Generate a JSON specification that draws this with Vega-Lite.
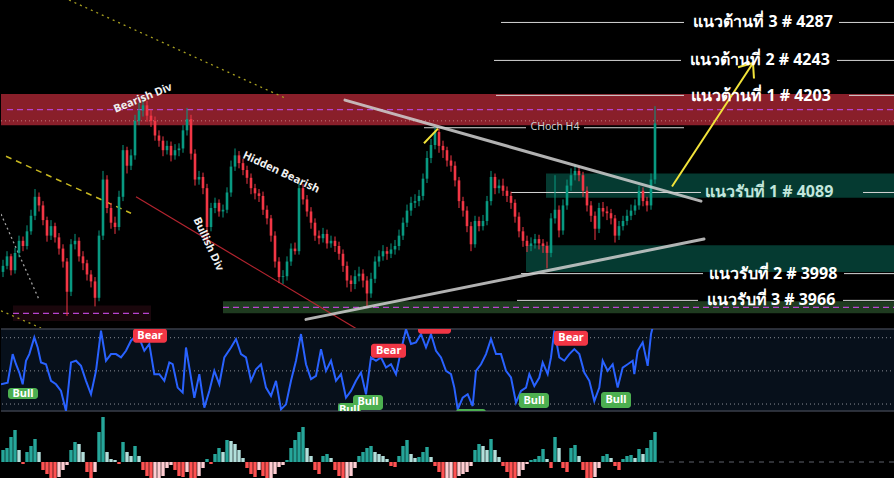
{
"$schema": "https://vega.github.io/schema/vega-lite/v6.json",
"background": "#000000",
"padding": 0,
"spacing": 0,
"config": {"view": {"stroke": null}, "concat": {"spacing": 0}, "scale": {"continuousPadding": 0}},
"resolve": {"scale": {"x": "independent", "y": "independent", "color": "independent"}},
"datasets": {
"candles": [
{"t":0.5,"o":3998,"h":4012,"l":3992,"c":4005},{"t":1.5,"o":4005,"h":4022,"l":4001,"c":4016},{"t":2.5,"o":4016,"h":4019,"l":3994,"c":4000},{"t":3.5,"o":4000,"h":4026,"l":3996,"c":4020},{"t":4.5,"o":4020,"h":4040,"l":4015,"c":4034},{"t":5.5,"o":4034,"h":4039,"l":4022,"c":4028},{"t":6.5,"o":4028,"h":4052,"l":4024,"c":4045},{"t":7.5,"o":4045,"h":4070,"l":4041,"c":4063},{"t":8.5,"o":4063,"h":4094,"l":4058,"c":4085},{"t":9.5,"o":4085,"h":4090,"l":4068,"c":4075},
{"t":10.5,"o":4075,"h":4080,"l":4052,"c":4058},{"t":11.5,"o":4058,"h":4062,"l":4033,"c":4040},{"t":12.5,"o":4040,"h":4058,"l":4035,"c":4051},{"t":13.5,"o":4051,"h":4055,"l":4032,"c":4038},{"t":14.5,"o":4038,"h":4043,"l":4018,"c":4025},{"t":15.5,"o":4025,"h":4030,"l":4003,"c":4010},{"t":16.5,"o":4010,"h":4014,"l":3947,"c":3975},{"t":17.5,"o":3975,"h":4036,"l":3970,"c":4030},{"t":18.5,"o":4030,"h":4042,"l":4024,"c":4034},{"t":19.5,"o":4034,"h":4038,"l":4010,"c":4016},
{"t":20.5,"o":4016,"h":4022,"l":4000,"c":4008},{"t":21.5,"o":4008,"h":4012,"l":3988,"c":3995},{"t":22.5,"o":3995,"h":4000,"l":3980,"c":3987},{"t":23.5,"o":3987,"h":3992,"l":3958,"c":3968},{"t":24.5,"o":3968,"h":4046,"l":3964,"c":4040},{"t":25.5,"o":4040,"h":4115,"l":4035,"c":4105},{"t":26.5,"o":4105,"h":4110,"l":4066,"c":4072},{"t":27.5,"o":4072,"h":4078,"l":4048,"c":4055},{"t":28.5,"o":4055,"h":4062,"l":4042,"c":4050},{"t":29.5,"o":4050,"h":4092,"l":4046,"c":4085},
{"t":30.5,"o":4085,"h":4145,"l":4080,"c":4139},{"t":31.5,"o":4139,"h":4143,"l":4112,"c":4121},{"t":32.5,"o":4121,"h":4140,"l":4116,"c":4133},{"t":33.5,"o":4133,"h":4180,"l":4128,"c":4173},{"t":34.5,"o":4173,"h":4194,"l":4168,"c":4185},{"t":35.5,"o":4185,"h":4200,"l":4178,"c":4191},{"t":36.5,"o":4191,"h":4196,"l":4172,"c":4179},{"t":37.5,"o":4179,"h":4186,"l":4166,"c":4173},{"t":38.5,"o":4173,"h":4178,"l":4150,"c":4156},{"t":39.5,"o":4156,"h":4162,"l":4143,"c":4150},
{"t":40.5,"o":4150,"h":4155,"l":4132,"c":4139},{"t":41.5,"o":4139,"h":4150,"l":4134,"c":4144},{"t":42.5,"o":4144,"h":4149,"l":4126,"c":4133},{"t":43.5,"o":4133,"h":4146,"l":4128,"c":4139},{"t":44.5,"o":4139,"h":4147,"l":4132,"c":4141},{"t":45.5,"o":4141,"h":4168,"l":4136,"c":4162},{"t":46.5,"o":4162,"h":4188,"l":4156,"c":4175},{"t":47.5,"o":4175,"h":4180,"l":4128,"c":4135},{"t":48.5,"o":4135,"h":4140,"l":4098,"c":4105},{"t":49.5,"o":4105,"h":4115,"l":4099,"c":4108},
{"t":50.5,"o":4108,"h":4113,"l":4088,"c":4095},{"t":51.5,"o":4095,"h":4100,"l":4030,"c":4050},{"t":52.5,"o":4050,"h":4078,"l":4045,"c":4072},{"t":53.5,"o":4072,"h":4084,"l":4066,"c":4078},{"t":54.5,"o":4078,"h":4082,"l":4062,"c":4068},{"t":55.5,"o":4068,"h":4076,"l":4061,"c":4070},{"t":56.5,"o":4070,"h":4096,"l":4066,"c":4090},{"t":57.5,"o":4090,"h":4127,"l":4085,"c":4120},{"t":58.5,"o":4120,"h":4141,"l":4115,"c":4133},{"t":59.5,"o":4133,"h":4138,"l":4118,"c":4124},
{"t":60.5,"o":4124,"h":4129,"l":4110,"c":4116},{"t":61.5,"o":4116,"h":4121,"l":4100,"c":4107},{"t":62.5,"o":4107,"h":4112,"l":4088,"c":4095},{"t":63.5,"o":4095,"h":4100,"l":4082,"c":4089},{"t":64.5,"o":4089,"h":4094,"l":4079,"c":4086},{"t":65.5,"o":4086,"h":4091,"l":4064,"c":4070},{"t":66.5,"o":4070,"h":4075,"l":4053,"c":4060},{"t":67.5,"o":4060,"h":4064,"l":4033,"c":4040},{"t":68.5,"o":4040,"h":4045,"l":4003,"c":4010},{"t":69.5,"o":4010,"h":4015,"l":3985,"c":3992},
{"t":70.5,"o":3992,"h":4000,"l":3984,"c":3993},{"t":71.5,"o":3993,"h":4016,"l":3988,"c":4010},{"t":72.5,"o":4010,"h":4031,"l":4005,"c":4025},{"t":73.5,"o":4025,"h":4032,"l":4018,"c":4022},{"t":74.5,"o":4022,"h":4102,"l":4018,"c":4095},{"t":75.5,"o":4095,"h":4100,"l":4076,"c":4082},{"t":76.5,"o":4082,"h":4087,"l":4062,"c":4068},{"t":77.5,"o":4068,"h":4073,"l":4048,"c":4055},{"t":78.5,"o":4055,"h":4060,"l":4034,"c":4040},{"t":79.5,"o":4040,"h":4046,"l":4030,"c":4037},
{"t":80.5,"o":4037,"h":4049,"l":4032,"c":4042},{"t":81.5,"o":4042,"h":4047,"l":4025,"c":4031},{"t":82.5,"o":4031,"h":4040,"l":4026,"c":4034},{"t":83.5,"o":4034,"h":4039,"l":4021,"c":4028},{"t":84.5,"o":4028,"h":4033,"l":4012,"c":4019},{"t":85.5,"o":4019,"h":4024,"l":3998,"c":4005},{"t":86.5,"o":4005,"h":4010,"l":3980,"c":3988},{"t":87.5,"o":3988,"h":3994,"l":3975,"c":3984},{"t":88.5,"o":3984,"h":4000,"l":3978,"c":3993},{"t":89.5,"o":3993,"h":4004,"l":3987,"c":3996},
{"t":90.5,"o":3996,"h":4001,"l":3980,"c":3988},{"t":91.5,"o":3988,"h":3993,"l":3958,"c":3973},{"t":92.5,"o":3973,"h":3997,"l":3968,"c":3990},{"t":93.5,"o":3990,"h":4016,"l":3985,"c":4010},{"t":94.5,"o":4010,"h":4023,"l":4004,"c":4016},{"t":95.5,"o":4016,"h":4029,"l":4011,"c":4022},{"t":96.5,"o":4022,"h":4027,"l":4012,"c":4019},{"t":97.5,"o":4019,"h":4031,"l":4014,"c":4024},{"t":98.5,"o":4024,"h":4035,"l":4018,"c":4028},{"t":99.5,"o":4028,"h":4047,"l":4023,"c":4040},
{"t":100.5,"o":4040,"h":4061,"l":4035,"c":4055},{"t":101.5,"o":4055,"h":4076,"l":4050,"c":4069},{"t":102.5,"o":4069,"h":4085,"l":4063,"c":4078},{"t":103.5,"o":4078,"h":4088,"l":4072,"c":4080},{"t":104.5,"o":4080,"h":4093,"l":4074,"c":4086},{"t":105.5,"o":4086,"h":4112,"l":4081,"c":4106},{"t":106.5,"o":4106,"h":4138,"l":4101,"c":4130},{"t":107.5,"o":4130,"h":4152,"l":4124,"c":4145},{"t":108.5,"o":4145,"h":4166,"l":4140,"c":4160},{"t":109.5,"o":4160,"h":4164,"l":4136,"c":4144},
{"t":110.5,"o":4144,"h":4150,"l":4130,"c":4139},{"t":111.5,"o":4139,"h":4143,"l":4120,"c":4127},{"t":112.5,"o":4127,"h":4133,"l":4114,"c":4121},{"t":113.5,"o":4121,"h":4126,"l":4097,"c":4104},{"t":114.5,"o":4104,"h":4108,"l":4072,"c":4080},{"t":115.5,"o":4080,"h":4085,"l":4062,"c":4069},{"t":116.5,"o":4069,"h":4074,"l":4044,"c":4051},{"t":117.5,"o":4051,"h":4056,"l":4022,"c":4030},{"t":118.5,"o":4030,"h":4063,"l":4026,"c":4057},{"t":119.5,"o":4057,"h":4062,"l":4045,"c":4051},
{"t":120.5,"o":4051,"h":4064,"l":4046,"c":4057},{"t":121.5,"o":4057,"h":4086,"l":4052,"c":4080},{"t":122.5,"o":4080,"h":4115,"l":4075,"c":4108},{"t":123.5,"o":4108,"h":4112,"l":4088,"c":4095},{"t":124.5,"o":4095,"h":4105,"l":4089,"c":4098},{"t":125.5,"o":4098,"h":4106,"l":4086,"c":4092},{"t":126.5,"o":4092,"h":4097,"l":4079,"c":4086},{"t":127.5,"o":4086,"h":4091,"l":4071,"c":4078},{"t":128.5,"o":4078,"h":4082,"l":4055,"c":4062},{"t":129.5,"o":4062,"h":4067,"l":4038,"c":4045},
{"t":130.5,"o":4045,"h":4050,"l":4027,"c":4034},{"t":131.5,"o":4034,"h":4040,"l":4021,"c":4028},{"t":132.5,"o":4028,"h":4038,"l":4022,"c":4031},{"t":133.5,"o":4031,"h":4042,"l":4025,"c":4036},{"t":134.5,"o":4036,"h":4041,"l":4024,"c":4031},{"t":135.5,"o":4031,"h":4036,"l":4020,"c":4028},{"t":136.5,"o":4028,"h":4033,"l":4002,"c":4020},{"t":137.5,"o":4020,"h":4066,"l":4015,"c":4060},{"t":138.5,"o":4060,"h":4110,"l":4054,"c":4070},{"t":139.5,"o":4070,"h":4075,"l":4038,"c":4046},
{"t":140.5,"o":4046,"h":4082,"l":4041,"c":4075},{"t":141.5,"o":4075,"h":4105,"l":4070,"c":4098},{"t":142.5,"o":4098,"h":4118,"l":4092,"c":4110},{"t":143.5,"o":4110,"h":4122,"l":4104,"c":4115},{"t":144.5,"o":4115,"h":4120,"l":4103,"c":4110},{"t":145.5,"o":4110,"h":4114,"l":4085,"c":4092},{"t":146.5,"o":4092,"h":4097,"l":4068,"c":4075},{"t":147.5,"o":4075,"h":4080,"l":4056,"c":4063},{"t":148.5,"o":4063,"h":4068,"l":4035,"c":4048},{"t":149.5,"o":4048,"h":4078,"l":4043,"c":4072},
{"t":150.5,"o":4072,"h":4079,"l":4062,"c":4068},{"t":151.5,"o":4068,"h":4074,"l":4058,"c":4066},{"t":152.5,"o":4066,"h":4071,"l":4053,"c":4060},{"t":153.5,"o":4060,"h":4064,"l":4032,"c":4040},{"t":154.5,"o":4040,"h":4057,"l":4035,"c":4051},{"t":155.5,"o":4051,"h":4063,"l":4046,"c":4057},{"t":156.5,"o":4057,"h":4070,"l":4052,"c":4063},{"t":157.5,"o":4063,"h":4076,"l":4058,"c":4069},{"t":158.5,"o":4069,"h":4082,"l":4064,"c":4075},{"t":159.5,"o":4075,"h":4098,"l":4070,"c":4092},
{"t":160.5,"o":4092,"h":4096,"l":4074,"c":4080},{"t":161.5,"o":4080,"h":4085,"l":4068,"c":4075},{"t":162.5,"o":4075,"h":4112,"l":4070,"c":4105},{"t":163.5,"o":4105,"h":4190,"l":4100,"c":4170}
],
"zones": [
{"k":"res","t1":0,"t2":223.5,"p1":4168,"p2":4204},
{"k":"sup","t1":136.25,"t2":223.5,"p1":4084,"p2":4112},
{"k":"sup","t1":131.25,"t2":223.5,"p1":3998,"p2":4029},
{"k":"base","t1":55.5,"t2":223.5,"p1":3950,"p2":3964},
{"k":"old","t1":3,"t2":37.5,"p1":3941,"p2":3959}
],
"pale": [{"t1":0,"t2":223.5,"p":4173}],
"magenta": [
{"t1":1.5,"t2":223.5,"p":4186},
{"t1":55.5,"t2":223.5,"p":3957},
{"t1":3,"t2":37.5,"p":3950}
],
"levels": [
{"t1":125,"t2":170.75,"p":4287},{"t1":209.5,"t2":223.5,"p":4287},
{"t1":123.25,"t2":170,"p":4243},{"t1":209,"t2":223.5,"p":4243},
{"t1":123.75,"t2":170.75,"p":4202.5},{"t1":212,"t2":223.5,"p":4202.5},
{"t1":105.75,"t2":131.25,"p":4165},{"t1":145.75,"t2":170.75,"p":4165},
{"t1":127.5,"t2":175,"p":4090},{"t1":215.5,"t2":223.5,"p":4090},
{"t1":130,"t2":175.5,"p":3996},{"t1":210.75,"t2":223.5,"p":3996},
{"t1":129,"t2":174.25,"p":3965},{"t1":210.5,"t2":223.5,"p":3965}
],
"segments": [
{"k":"tri","t1":86,"p1":4197,"t2":175,"p2":4080},
{"k":"tri","t1":76.25,"p1":3943,"t2":175.75,"p2":4036},
{"k":"div","t1":33.75,"p1":4085,"t2":90,"p2":3929},
{"k":"ydash","t1":1.25,"p1":4132,"t2":32.5,"p2":4066},
{"k":"ydot","t1":17,"p1":4313,"t2":70.75,"p2":4200},
{"k":"ydot","t1":0,"p1":3953,"t2":10,"p2":3933},
{"k":"gdot","t1":0,"p1":4065,"t2":9.5,"p2":3966},
{"k":"arrow","t1":167.75,"p1":4097,"t2":188,"p2":4240},
{"k":"arrow","t1":188,"p1":4240,"t2":184.25,"p2":4235},
{"k":"arrow","t1":188,"p1":4240,"t2":188.25,"p2":4222},
{"k":"arrow","t1":105.75,"p1":4147,"t2":109.25,"p2":4164}
],
"texts": [
{"k":"lvl","txt":"แนวต้านที่ 3 # 4287","t":190.5,"p":4287},
{"k":"lvl","txt":"แนวต้านที่ 2 # 4243","t":189.75,"p":4243},
{"k":"lvl","txt":"แนวต้านที่ 1 # 4203","t":190,"p":4202},
{"k":"mint","txt":"แนวรับที่ 1 # 4089","t":192,"p":4090},
{"k":"lvl","txt":"แนวรับที่ 2 # 3998","t":193,"p":3996},
{"k":"lvl","txt":"แนวรับที่ 3 # 3966","t":192.5,"p":3966},
{"k":"choch","txt":"CHoch H4","t":138.5,"p":4166},
{"k":"bear","txt":"Bearish Div","t":35.5,"p":4199},
{"k":"hidden","txt":"Hidden Bearish","t":70,"p":4113},
{"k":"bull","txt":"Bullish Div","t":51.75,"p":4030}
],
"rsilevels": [{"v":70},{"v":50},{"v":30}],
"rsiborders": [{"v":75.25},{"v":25.8}],
"rsi": [
{"t":0,"v":41.9},{"t":1.67,"v":42.9},{"t":2.92,"v":60.1},{"t":3.75,"v":54.0},{"t":4.58,"v":49.0},{"t":5.42,"v":41.9},{"t":6.25,"v":56.1},{"t":7.08,"v":60.1},{"t":8.33,"v":70.2},{"t":9.17,"v":64.1},
{"t":10,"v":55.1},{"t":11.25,"v":54.0},{"t":12.5,"v":44.0},{"t":13.75,"v":41.9},{"t":15,"v":37.9},{"t":16.25,"v":25.8},{"t":17.5,"v":55.1},{"t":18.75,"v":56.1},{"t":20,"v":53.0},{"t":21.25,"v":44.0},
{"t":22.5,"v":35.9},{"t":23.75,"v":50.0},{"t":25,"v":74.2},{"t":26.25,"v":56.1},{"t":27.5,"v":60.1},{"t":28.75,"v":60.1},{"t":30,"v":58.1},{"t":31.25,"v":62.1},{"t":32.5,"v":68.2},{"t":34.17,"v":72.2},
{"t":35.83,"v":62.1},{"t":37.08,"v":66.2},{"t":38.33,"v":48.0},{"t":39.58,"v":48.0},{"t":40.83,"v":44.0},{"t":42.08,"v":55.1},{"t":42.92,"v":54.0},{"t":44.17,"v":39.9},{"t":45.42,"v":36.9},{"t":46.25,"v":64.1},
{"t":47.08,"v":52.0},{"t":48.33,"v":33.8},{"t":49.58,"v":48.0},{"t":50.83,"v":27.8},{"t":52.08,"v":37.9},{"t":53.33,"v":50.0},{"t":54.58,"v":41.9},{"t":55.83,"v":58.1},{"t":57.5,"v":64.1},{"t":58.75,"v":69.2},
{"t":60,"v":60.1},{"t":61.25,"v":58.1},{"t":62.5,"v":44.0},{"t":63.75,"v":51.0},{"t":65,"v":54.0},{"t":66.25,"v":39.9},{"t":67.5,"v":34.9},{"t":68.75,"v":44.0},{"t":70,"v":26.8},{"t":71.25,"v":29.8},
{"t":72.5,"v":44.0},{"t":73.75,"v":56.1},{"t":75,"v":72.2},{"t":76.25,"v":54.0},{"t":77.5,"v":45.0},{"t":78.75,"v":47.0},{"t":80,"v":63.1},{"t":81.25,"v":50.0},{"t":82.5,"v":56.1},{"t":83.75,"v":44.0},
{"t":85,"v":48.0},{"t":86.25,"v":33.8},{"t":87.5,"v":37.9},{"t":88.75,"v":44.0},{"t":90,"v":49.0},{"t":91.25,"v":35.9},{"t":92.5,"v":58.1},{"t":93.75,"v":56.1},{"t":95,"v":58.1},{"t":96.25,"v":52.0},
{"t":97.5,"v":54.0},{"t":98.75,"v":48.0},{"t":100,"v":62.1},{"t":101.25,"v":75.2},{"t":102.5,"v":66.2},{"t":103.75,"v":67.2},{"t":105,"v":72.2},{"t":106.25,"v":64.1},{"t":107.5,"v":72.2},{"t":108.75,"v":62.1},
{"t":110,"v":58.1},{"t":111.25,"v":50.0},{"t":112.5,"v":48.0},{"t":113.33,"v":39.9},{"t":114.17,"v":26.8},{"t":115.42,"v":33.8},{"t":116.67,"v":35.9},{"t":117.92,"v":28.8},{"t":118.75,"v":50.0},{"t":120,"v":54.0},
{"t":121.25,"v":60.1},{"t":122.5,"v":69.2},{"t":123.75,"v":60.1},{"t":125,"v":60.1},{"t":126.25,"v":50.0},{"t":127.5,"v":46.0},{"t":128.75,"v":30.8},{"t":130,"v":37.9},{"t":131.25,"v":39.9},{"t":132.08,"v":48.0},
{"t":133.33,"v":40.9},{"t":134.58,"v":46.0},{"t":135.42,"v":55.1},{"t":136.67,"v":48.0},{"t":137.5,"v":58.1},{"t":138.33,"v":74.2},{"t":139.58,"v":58.1},{"t":140.83,"v":56.1},{"t":142.08,"v":60.1},{"t":143.33,"v":63.1},
{"t":144.58,"v":60.1},{"t":145.83,"v":49.0},{"t":147.08,"v":44.0},{"t":148.33,"v":31.8},{"t":149.58,"v":39.9},{"t":150.42,"v":56.1},{"t":151.67,"v":50.0},{"t":152.92,"v":54.0},{"t":154.17,"v":39.9},{"t":155.42,"v":52.0},
{"t":156.67,"v":54.0},{"t":157.92,"v":56.1},{"t":158.33,"v":48.0},{"t":159.17,"v":62.1},{"t":160.42,"v":67.2},{"t":161.67,"v":53.0},{"t":162.5,"v":72.2},{"t":163.33,"v":80.3}
],
"signals": [
{"k":"Bull","lab":"Bull","t1":1.75,"t2":9.25,"v1":33.0,"v2":39.7,"tc":5.5,"vc":36.3},
{"k":"Bear","lab":"Bear","t1":33,"t2":41.5,"v1":67.0,"v2":75.5,"tc":37.25,"vc":71.2},
{"k":"Bear","lab":"","t1":104.25,"t2":112.5,"v1":72.4,"v2":79.5,"tc":108.4,"vc":76},
{"k":"Bear","lab":"Bear","t1":92.5,"t2":101.25,"v1":57.9,"v2":66.4,"tc":96.9,"vc":62.1},
{"k":"Bull","lab":"Bull","t1":84.25,"t2":90,"v1":22.7,"v2":30.6,"tc":87.1,"vc":26.6},
{"k":"Bull","lab":"Bull","t1":88,"t2":95.5,"v1":26.4,"v2":35.5,"tc":91.75,"vc":31.0},
{"k":"Bull","lab":"","t1":113.75,"t2":121.25,"v1":21,"v2":27,"tc":117.5,"vc":24},
{"k":"Bear","lab":"Bear","t1":138.25,"t2":146.75,"v1":65.2,"v2":74.2,"tc":142.5,"vc":69.7},
{"k":"Bull","lab":"Bull","t1":129.5,"t2":137,"v1":27.6,"v2":36.7,"tc":133.25,"vc":32.1},
{"k":"Bull","lab":"Bull","t1":150,"t2":157.5,"v1":27.6,"v2":37.3,"tc":153.75,"vc":32.4}
],
"hist": [
{"t":0.5,"v":12,"s":"up"},{"t":1.5,"v":14,"s":"up"},{"t":2.5,"v":25,"s":"up"},{"t":3.5,"v":32,"s":"up"},{"t":4.5,"v":12,"s":"upfade"},{"t":5.5,"v":-2,"s":"dn"},{"t":6.5,"v":10,"s":"up"},{"t":7.5,"v":16,"s":"up"},{"t":8.5,"v":23,"s":"up"},{"t":9.5,"v":10,"s":"upfade"},
{"t":10.5,"v":-8,"s":"dn"},{"t":11.5,"v":-12,"s":"dn"},{"t":12.5,"v":-17,"s":"dn"},{"t":13.5,"v":-18,"s":"dn"},{"t":14.5,"v":-15,"s":"dnfade"},{"t":15.5,"v":-8,"s":"dnfade"},{"t":16.5,"v":-3,"s":"dnfade"},{"t":17.5,"v":12,"s":"up"},{"t":18.5,"v":20,"s":"up"},{"t":19.5,"v":18,"s":"upfade"},
{"t":20.5,"v":10,"s":"upfade"},{"t":21.5,"v":-10,"s":"dn"},{"t":22.5,"v":-16,"s":"dn"},{"t":23.5,"v":-10,"s":"dnfade"},{"t":24.5,"v":30,"s":"up"},{"t":25.5,"v":45,"s":"up"},{"t":26.5,"v":10,"s":"upfade"},{"t":27.5,"v":3,"s":"upfade"},{"t":28.5,"v":2,"s":"upfade"},{"t":29.5,"v":-2,"s":"dn"},
{"t":30.5,"v":20,"s":"up"},{"t":31.5,"v":10,"s":"upfade"},{"t":32.5,"v":6,"s":"upfade"},{"t":33.5,"v":16,"s":"up"},{"t":34.5,"v":6,"s":"upfade"},{"t":35.5,"v":-8,"s":"dn"},{"t":36.5,"v":-14,"s":"dn"},{"t":37.5,"v":-18,"s":"dn"},{"t":38.5,"v":-17,"s":"dnfade"},{"t":39.5,"v":-16,"s":"dnfade"},
{"t":40.5,"v":-14,"s":"dnfade"},{"t":41.5,"v":-6,"s":"dnfade"},{"t":42.5,"v":-3,"s":"dnfade"},{"t":43.5,"v":-8,"s":"dn"},{"t":44.5,"v":-14,"s":"dn"},{"t":45.5,"v":-15,"s":"dn"},{"t":46.5,"v":-10,"s":"dnfade"},{"t":47.5,"v":-16,"s":"dn"},{"t":48.5,"v":-18,"s":"dn"},{"t":49.5,"v":-14,"s":"dnfade"},
{"t":50.5,"v":-6,"s":"dnfade"},{"t":51.5,"v":3,"s":"up"},{"t":52.5,"v":-2,"s":"dn"},{"t":53.5,"v":8,"s":"up"},{"t":54.5,"v":14,"s":"up"},{"t":55.5,"v":10,"s":"upfade"},{"t":56.5,"v":22,"s":"up"},{"t":57.5,"v":21,"s":"upfade"},{"t":58.5,"v":18,"s":"upfade"},{"t":59.5,"v":12,"s":"upfade"},
{"t":60.5,"v":4,"s":"upfade"},{"t":61.5,"v":-6,"s":"dn"},{"t":62.5,"v":-12,"s":"dn"},{"t":63.5,"v":-15,"s":"dn"},{"t":64.5,"v":-8,"s":"dnfade"},{"t":65.5,"v":-14,"s":"dn"},{"t":66.5,"v":-18,"s":"dn"},{"t":67.5,"v":-17,"s":"dnfade"},{"t":68.5,"v":-12,"s":"dnfade"},{"t":69.5,"v":-5,"s":"dnfade"},
{"t":70.5,"v":-3,"s":"dnfade"},{"t":71.5,"v":2,"s":"up"},{"t":72.5,"v":14,"s":"up"},{"t":73.5,"v":22,"s":"up"},{"t":74.5,"v":30,"s":"up"},{"t":75.5,"v":35,"s":"up"},{"t":76.5,"v":14,"s":"upfade"},{"t":77.5,"v":6,"s":"upfade"},{"t":78.5,"v":-8,"s":"dn"},{"t":79.5,"v":-12,"s":"dn"},
{"t":80.5,"v":6,"s":"up"},{"t":81.5,"v":8,"s":"up"},{"t":82.5,"v":4,"s":"upfade"},{"t":83.5,"v":-8,"s":"dn"},{"t":84.5,"v":-14,"s":"dn"},{"t":85.5,"v":-18,"s":"dn"},{"t":86.5,"v":-17,"s":"dnfade"},{"t":87.5,"v":-14,"s":"dnfade"},{"t":88.5,"v":-6,"s":"dnfade"},{"t":89.5,"v":6,"s":"up"},
{"t":90.5,"v":10,"s":"up"},{"t":91.5,"v":14,"s":"up"},{"t":92.5,"v":16,"s":"up"},{"t":93.5,"v":10,"s":"upfade"},{"t":94.5,"v":8,"s":"upfade"},{"t":95.5,"v":6,"s":"upfade"},{"t":96.5,"v":3,"s":"upfade"},{"t":97.5,"v":-4,"s":"dn"},{"t":98.5,"v":-5,"s":"dn"},{"t":99.5,"v":6,"s":"up"},
{"t":100.5,"v":16,"s":"up"},{"t":101.5,"v":22,"s":"up"},{"t":102.5,"v":8,"s":"upfade"},{"t":103.5,"v":4,"s":"upfade"},{"t":104.5,"v":5,"s":"up"},{"t":105.5,"v":10,"s":"up"},{"t":106.5,"v":15,"s":"up"},{"t":107.5,"v":5,"s":"upfade"},{"t":108.5,"v":-4,"s":"dn"},{"t":109.5,"v":-10,"s":"dn"},
{"t":110.5,"v":-18,"s":"dn"},{"t":111.5,"v":-17,"s":"dnfade"},{"t":112.5,"v":-16,"s":"dnfade"},{"t":113.5,"v":-18,"s":"dn"},{"t":114.5,"v":-14,"s":"dnfade"},{"t":115.5,"v":-12,"s":"dnfade"},{"t":116.5,"v":-10,"s":"dnfade"},{"t":117.5,"v":-4,"s":"dnfade"},{"t":118.5,"v":12,"s":"up"},{"t":119.5,"v":18,"s":"up"},
{"t":120.5,"v":16,"s":"upfade"},{"t":121.5,"v":12,"s":"upfade"},{"t":122.5,"v":23,"s":"up"},{"t":123.5,"v":12,"s":"upfade"},{"t":124.5,"v":5,"s":"upfade"},{"t":125.5,"v":-4,"s":"dn"},{"t":126.5,"v":-10,"s":"dn"},{"t":127.5,"v":-16,"s":"dn"},{"t":128.5,"v":-18,"s":"dn"},{"t":129.5,"v":-14,"s":"dnfade"},
{"t":130.5,"v":-8,"s":"dnfade"},{"t":131.5,"v":-2,"s":"dnfade"},{"t":132.5,"v":2,"s":"up"},{"t":133.5,"v":3,"s":"up"},{"t":134.5,"v":6,"s":"up"},{"t":135.5,"v":13,"s":"up"},{"t":136.5,"v":3,"s":"upfade"},{"t":137.5,"v":-6,"s":"dn"},{"t":138.5,"v":25,"s":"up"},{"t":139.5,"v":14,"s":"upfade"},
{"t":140.5,"v":-6,"s":"dn"},{"t":141.5,"v":-10,"s":"dn"},{"t":142.5,"v":14,"s":"up"},{"t":143.5,"v":17,"s":"up"},{"t":144.5,"v":6,"s":"upfade"},{"t":145.5,"v":-8,"s":"dn"},{"t":146.5,"v":-16,"s":"dn"},{"t":147.5,"v":-18,"s":"dn"},{"t":148.5,"v":-15,"s":"dnfade"},{"t":149.5,"v":-6,"s":"dnfade"},
{"t":150.5,"v":6,"s":"up"},{"t":151.5,"v":8,"s":"up"},{"t":152.5,"v":4,"s":"upfade"},{"t":153.5,"v":-4,"s":"dn"},{"t":154.5,"v":-8,"s":"dn"},{"t":155.5,"v":3,"s":"up"},{"t":156.5,"v":6,"s":"up"},{"t":157.5,"v":7,"s":"up"},{"t":158.5,"v":4,"s":"upfade"},{"t":159.5,"v":13,"s":"up"},
{"t":160.5,"v":8,"s":"upfade"},{"t":161.5,"v":14,"s":"up"},{"t":162.5,"v":22,"s":"up"},{"t":163.5,"v":30,"s":"up"}
],
"zero": [{"t1":164.5,"t2":223.5,"v":0}]
},
"vconcat": [
{
"width": 894, "height": 328,
"layer": [
{"data":{"name":"zones"},"mark":{"type":"rect","clip":true},"encoding":{
 "x":{"field":"t1","type":"quantitative","scale":{"domain":[0,223.5],"nice":false,"zero":false,"padding":0},"axis":null},"x2":{"field":"t2"},
 "y":{"field":"p1","type":"quantitative","scale":{"domain":[3933,4313],"nice":false,"zero":false},"axis":null},"y2":{"field":"p2"},
 "color":{"field":"k","type":"nominal","scale":{"domain":["res","sup","base","old"],"range":["#891f2a","#053a31","#1f3b20","#1a070c"]},"legend":null}}},
{"data":{"name":"pale"},"mark":{"type":"rule","color":"#d9a0a0","strokeDash":[1,3],"opacity":0.7},"encoding":{
 "x":{"field":"t1","type":"quantitative","scale":{"domain":[0,223.5],"nice":false,"zero":false,"padding":0},"axis":null},"x2":{"field":"t2"},
 "y":{"field":"p","type":"quantitative","scale":{"domain":[3933,4313],"nice":false,"zero":false},"axis":null}}},
{"data":{"name":"magenta"},"mark":{"type":"rule","color":"#b843d0","strokeDash":[6,4],"strokeWidth":1.2},"encoding":{
 "x":{"field":"t1","type":"quantitative","scale":{"domain":[0,223.5],"nice":false,"zero":false,"padding":0},"axis":null},"x2":{"field":"t2"},
 "y":{"field":"p","type":"quantitative","scale":{"domain":[3933,4313],"nice":false,"zero":false},"axis":null}}},
{"data":{"name":"levels"},"mark":{"type":"rule","color":"#d6d6d6","strokeWidth":1},"encoding":{
 "x":{"field":"t1","type":"quantitative","scale":{"domain":[0,223.5],"nice":false,"zero":false,"padding":0},"axis":null},"x2":{"field":"t2"},
 "y":{"field":"p","type":"quantitative","scale":{"domain":[3933,4313],"nice":false,"zero":false},"axis":null}}},
{"data":{"name":"segments"},"transform":[{"filter":"datum.k == 'ydot'"}],"mark":{"type":"rule","color":"#a8a020","strokeDash":[2,4],"strokeWidth":1.3,"clip":true},"encoding":{
 "x":{"field":"t1","type":"quantitative","scale":{"domain":[0,223.5],"nice":false,"zero":false,"padding":0},"axis":null},"x2":{"field":"t2"},
 "y":{"field":"p1","type":"quantitative","scale":{"domain":[3933,4313],"nice":false,"zero":false},"axis":null},"y2":{"field":"p2"}}},
{"data":{"name":"segments"},"transform":[{"filter":"datum.k == 'gdot'"}],"mark":{"type":"rule","color":"#a0a0a0","strokeDash":[2,3],"strokeWidth":1.3,"clip":true},"encoding":{
 "x":{"field":"t1","type":"quantitative","scale":{"domain":[0,223.5],"nice":false,"zero":false,"padding":0},"axis":null},"x2":{"field":"t2"},
 "y":{"field":"p1","type":"quantitative","scale":{"domain":[3933,4313],"nice":false,"zero":false},"axis":null},"y2":{"field":"p2"}}},
{"data":{"name":"segments"},"transform":[{"filter":"datum.k == 'ydash'"}],"mark":{"type":"rule","color":"#c8b820","strokeDash":[6,5],"strokeWidth":1.5,"clip":true},"encoding":{
 "x":{"field":"t1","type":"quantitative","scale":{"domain":[0,223.5],"nice":false,"zero":false,"padding":0},"axis":null},"x2":{"field":"t2"},
 "y":{"field":"p1","type":"quantitative","scale":{"domain":[3933,4313],"nice":false,"zero":false},"axis":null},"y2":{"field":"p2"}}},
{"data":{"name":"segments"},"transform":[{"filter":"datum.k == 'div'"}],"mark":{"type":"rule","color":"#b3242f","strokeWidth":1.2,"clip":true},"encoding":{
 "x":{"field":"t1","type":"quantitative","scale":{"domain":[0,223.5],"nice":false,"zero":false,"padding":0},"axis":null},"x2":{"field":"t2"},
 "y":{"field":"p1","type":"quantitative","scale":{"domain":[3933,4313],"nice":false,"zero":false},"axis":null},"y2":{"field":"p2"}}},
{"data":{"name":"candles"},"mark":{"type":"rule","strokeWidth":1,"clip":true},"encoding":{
 "x":{"field":"t","type":"quantitative","scale":{"domain":[0,223.5],"nice":false,"zero":false,"padding":0},"axis":null},
 "y":{"field":"l","type":"quantitative","scale":{"domain":[3933,4313],"nice":false,"zero":false},"axis":null},"y2":{"field":"h"},
 "color":{"condition":{"test":"datum.c >= datum.o","value":"#089981"},"value":"#f23645"}}},
{"data":{"name":"candles"},"mark":{"type":"bar","size":2.6,"clip":true},"encoding":{
 "x":{"field":"t","type":"quantitative","scale":{"domain":[0,223.5],"nice":false,"zero":false,"padding":0},"axis":null},
 "y":{"field":"o","type":"quantitative","scale":{"domain":[3933,4313],"nice":false,"zero":false},"axis":null},"y2":{"field":"c"},
 "color":{"condition":{"test":"datum.c >= datum.o","value":"#089981"},"value":"#f23645"}}},
{"data":{"name":"segments"},"transform":[{"filter":"datum.k == 'tri'"}],"mark":{"type":"rule","color":"#d0d0d0","strokeWidth":3,"opacity":0.85,"strokeCap":"round","clip":true},"encoding":{
 "x":{"field":"t1","type":"quantitative","scale":{"domain":[0,223.5],"nice":false,"zero":false,"padding":0},"axis":null},"x2":{"field":"t2"},
 "y":{"field":"p1","type":"quantitative","scale":{"domain":[3933,4313],"nice":false,"zero":false},"axis":null},"y2":{"field":"p2"}}},
{"data":{"name":"segments"},"transform":[{"filter":"datum.k == 'arrow'"}],"mark":{"type":"rule","color":"#f2e33a","strokeWidth":2,"clip":true},"encoding":{
 "x":{"field":"t1","type":"quantitative","scale":{"domain":[0,223.5],"nice":false,"zero":false,"padding":0},"axis":null},"x2":{"field":"t2"},
 "y":{"field":"p1","type":"quantitative","scale":{"domain":[3933,4313],"nice":false,"zero":false},"axis":null},"y2":{"field":"p2"}}},
{"data":{"name":"texts"},"transform":[{"filter":"datum.k == 'lvl' || datum.k == 'mint'"}],"mark":{"type":"text","fontSize":16,"fontWeight":"bold","font":"Noto Sans","align":"center","baseline":"middle"},"encoding":{
 "x":{"field":"t","type":"quantitative","scale":{"domain":[0,223.5],"nice":false,"zero":false,"padding":0},"axis":null},
 "y":{"field":"p","type":"quantitative","scale":{"domain":[3933,4313],"nice":false,"zero":false},"axis":null},
 "text":{"field":"txt"},
 "color":{"condition":{"test":"datum.k == 'mint'","value":"#c2e6dc"},"value":"#ffffff"}}},
{"data":{"name":"texts"},"transform":[{"filter":"datum.k == 'choch'"}],"mark":{"type":"text","fontSize":10.5,"font":"Noto Sans","color":"#cfcfcf","align":"center","baseline":"middle"},"encoding":{
 "x":{"field":"t","type":"quantitative","scale":{"domain":[0,223.5],"nice":false,"zero":false,"padding":0},"axis":null},
 "y":{"field":"p","type":"quantitative","scale":{"domain":[3933,4313],"nice":false,"zero":false},"axis":null},
 "text":{"field":"txt"}}},
{"data":{"name":"texts"},"transform":[{"filter":"datum.k == 'bear'"}],"mark":{"type":"text","fontSize":11,"fontWeight":"bold","font":"Noto Sans","color":"#f0f0f0","align":"center","baseline":"middle","angle":338},"encoding":{
 "x":{"field":"t","type":"quantitative","scale":{"domain":[0,223.5],"nice":false,"zero":false,"padding":0},"axis":null},
 "y":{"field":"p","type":"quantitative","scale":{"domain":[3933,4313],"nice":false,"zero":false},"axis":null},
 "text":{"field":"txt"}}},
{"data":{"name":"texts"},"transform":[{"filter":"datum.k == 'hidden'"}],"mark":{"type":"text","fontSize":11,"fontWeight":"bold","font":"Noto Sans","color":"#f0f0f0","align":"center","baseline":"middle","angle":25},"encoding":{
 "x":{"field":"t","type":"quantitative","scale":{"domain":[0,223.5],"nice":false,"zero":false,"padding":0},"axis":null},
 "y":{"field":"p","type":"quantitative","scale":{"domain":[3933,4313],"nice":false,"zero":false},"axis":null},
 "text":{"field":"txt"}}},
{"data":{"name":"texts"},"transform":[{"filter":"datum.k == 'bull'"}],"mark":{"type":"text","fontSize":11,"fontWeight":"bold","font":"Noto Sans","color":"#f0f0f0","align":"center","baseline":"middle","angle":65},"encoding":{
 "x":{"field":"t","type":"quantitative","scale":{"domain":[0,223.5],"nice":false,"zero":false,"padding":0},"axis":null},
 "y":{"field":"p","type":"quantitative","scale":{"domain":[3933,4313],"nice":false,"zero":false},"axis":null},
 "text":{"field":"txt"}}}
]
},
{
"width": 894, "height": 82,
"view": {"fill": "#07101b", "stroke": null},
"layer": [
{"data":{"name":"rsilevels"},"mark":{"type":"rule","color":"#8a8d96","strokeDash":[1,3]},"encoding":{
 "y":{"field":"v","type":"quantitative","scale":{"domain":[25.8,75.25],"nice":false,"zero":false},"axis":null}}},
{"data":{"name":"rsiborders"},"mark":{"type":"rule","color":"#3a3e4a","strokeWidth":1.5},"encoding":{
 "y":{"field":"v","type":"quantitative","scale":{"domain":[25.8,75.25],"nice":false,"zero":false},"axis":null}}},
{"data":{"name":"rsi"},"mark":{"type":"line","color":"#2962ff","strokeWidth":2,"clip":true},"encoding":{
 "x":{"field":"t","type":"quantitative","scale":{"domain":[0,223.5],"nice":false,"zero":false,"padding":0},"axis":null},
 "y":{"field":"v","type":"quantitative","scale":{"domain":[25.8,75.25],"nice":false,"zero":false},"axis":null}}},
{"data":{"name":"signals"},"mark":{"type":"rect","cornerRadius":3,"clip":true},"encoding":{
 "x":{"field":"t1","type":"quantitative","scale":{"domain":[0,223.5],"nice":false,"zero":false,"padding":0},"axis":null},"x2":{"field":"t2"},
 "y":{"field":"v1","type":"quantitative","scale":{"domain":[25.8,75.25],"nice":false,"zero":false},"axis":null},"y2":{"field":"v2"},
 "color":{"condition":{"test":"datum.k == 'Bull'","value":"#4caf50"},"value":"#f23645"}}},
{"data":{"name":"signals"},"transform":[{"filter":"datum.lab != ''"}],"mark":{"type":"text","fontSize":11,"fontWeight":"bold","font":"Noto Sans","color":"#ffffff","align":"center","baseline":"middle","clip":true},"encoding":{
 "x":{"field":"tc","type":"quantitative","scale":{"domain":[0,223.5],"nice":false,"zero":false,"padding":0},"axis":null},
 "y":{"field":"vc","type":"quantitative","scale":{"domain":[25.8,75.25],"nice":false,"zero":false},"axis":null},
 "text":{"field":"lab"}}}
]
},
{
"width": 894, "height": 68,
"layer": [
{"data":{"name":"hist"},"mark":{"type":"bar","size":3.4,"clip":true},"encoding":{
 "x":{"field":"t","type":"quantitative","scale":{"domain":[0,223.5],"nice":false,"zero":false,"padding":0},"axis":null},
 "y":{"field":"v","type":"quantitative","scale":{"domain":[-18,50],"nice":false},"axis":null},
 "color":{"field":"s","type":"nominal","scale":{"domain":["up","upfade","dn","dnfade"],"range":["#26a69a","#b2dfdb","#ff5252","#ffcdd2"]},"legend":null}}},
{"data":{"name":"zero"},"mark":{"type":"rule","color":"#5d606b","strokeDash":[5,5]},"encoding":{
 "x":{"field":"t1","type":"quantitative","scale":{"domain":[0,223.5],"nice":false,"zero":false,"padding":0},"axis":null},"x2":{"field":"t2"},
 "y":{"field":"v","type":"quantitative","scale":{"domain":[-18,50],"nice":false},"axis":null}}}
]
}
]
}
